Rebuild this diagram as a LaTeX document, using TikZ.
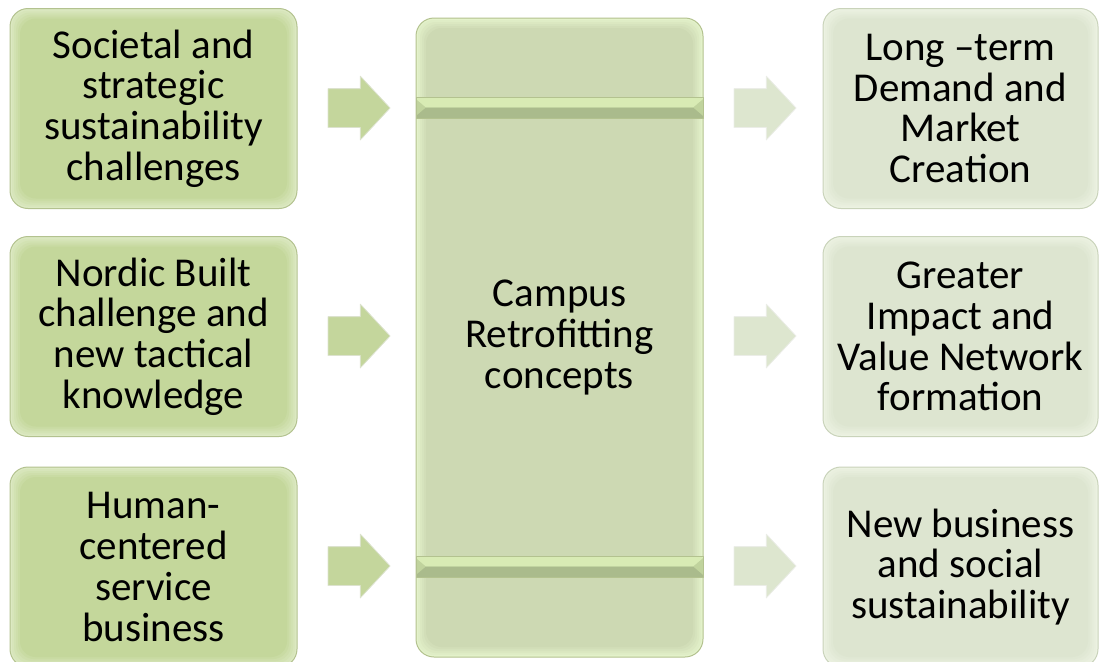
\documentclass[tikz,border=0pt]{standalone}
\usepackage{fontspec}
\setmainfont{Carlito}
\usetikzlibrary{shapes.arrows}

\definecolor{leftfill}{HTML}{C4D79B}
\definecolor{leftglow}{HTML}{DCE9C2}
\definecolor{leftline}{HTML}{B3C28F}
\definecolor{midfill}{HTML}{CDD9B3}
\definecolor{midglow}{HTML}{E4F2CB}
\definecolor{rightfill}{HTML}{DDE5D0}
\definecolor{rightglow}{HTML}{ECF2E2}
\definecolor{rightline}{HTML}{C9D3BA}
\definecolor{bandlight}{HTML}{D8EBB4}
\definecolor{bandmid}{HTML}{C0D39D}
\definecolor{banddark}{HTML}{AABB8C}
\definecolor{leftarrow}{HTML}{C4D69C}
\definecolor{rightarrow}{HTML}{DDE6CF}

\tikzset{
  glowbox/.style n args={3}{rounded corners=9pt, draw=#3, line width=0.5pt, fill=#2,
    align=center, inner sep=0pt, font=\fontsize{20.5}{20.4}\selectfont,
    path picture={
      \foreach \k in {1,...,5}{
        \pgfmathtruncatemacro\pc{\k*20}
        \fill[#1!\pc!#2, rounded corners=8pt]
          ([shift={(\k*1pt,\k*1pt)}]path picture bounding box.south west) rectangle
          ([shift={(-\k*1pt,-\k*1pt)}]path picture bounding box.north east);
      }
    }},
  inbox/.style={glowbox={leftfill}{leftglow}{leftline}, minimum width=143.5pt, minimum height=100pt},
  outbox/.style={glowbox={rightfill}{rightglow}{rightline}, minimum width=137.5pt, minimum height=100pt},
  midbox/.style={glowbox={midfill}{midglow}{leftline}, minimum width=143.5pt, minimum height=319.5pt},
  blockarr/.style={single arrow, single arrow head extend=6.25pt, single arrow tip angle=94,
    minimum height=31pt, minimum width=31.5pt, inner xsep=0pt, inner ysep=9.5pt, line width=0.4pt},
  inarr/.style={blockarr, fill=leftarrow, draw=leftarrow!85!black!40!white},
  outarr/.style={blockarr, fill=rightarrow, draw=rightarrow!85!black!30!white}
}

\begin{document}
\begin{tikzpicture}[line cap=round,line join=round,x=0.5pt,y=-0.5pt]
\useasboundingbox (0,0) rectangle (1099,661);
\clip (0,0) rectangle (1099,661);

% left column
\node[inbox] (soc) at (153.5,108.5) {Societal and\\strategic\\sustainability\\challenges};
\node[inbox] (nord) at (153.5,336.5) {Nordic Built\\challenge and\\new tactical\\knowledge};
\node[inbox] (hum) at (153.5,567) {Human-\\centered\\service\\business};

% middle
\node[midbox] (camp) at (559.5,337.5) {Campus\\Retrofitting\\concepts};

% bevel bands
\fill[bandmid] (416,97) rectangle (703,118);
\fill[bandlight] (416,97) -- (703,97) -- (703,99) -- (693,107.5) -- (426,107.5) -- (416,99) -- cycle;
\fill[banddark] (426,107.5) -- (693,107.5) -- (703,116) -- (703,118) -- (416,118) -- (416,116) -- cycle;
\draw[leftline, line width=0.5pt] (416,97) rectangle (703,118);
\fill[bandmid] (416,556) rectangle (703,577);
\fill[bandlight] (416,556) -- (703,556) -- (703,558) -- (693,566.5) -- (426,566.5) -- (416,558) -- cycle;
\fill[banddark] (426,566.5) -- (693,566.5) -- (703,575) -- (703,577) -- (416,577) -- (416,575) -- cycle;
\draw[leftline, line width=0.5pt] (416,556) rectangle (703,577);

% right column
\node[outbox] (dem) at (960.5,108.5) {Long –term\\Demand and\\Market\\Creation};
\node[outbox] (imp) at (960.5,336.5) {Greater\\Impact and\\Value Network\\formation};
\node[outbox] (biz) at (960.5,567) {New business\\and social\\sustainability};

% arrows
\node[inarr] (in1) at (350,108) {};
\node[inarr] (in2) at (350,336) {};
\node[inarr] (in3) at (350,566) {};
\node[outarr] (out1) at (756,108) {};
\node[outarr] (out2) at (756,336) {};
\node[outarr] (out3) at (756,566) {};
\end{tikzpicture}
\end{document}
